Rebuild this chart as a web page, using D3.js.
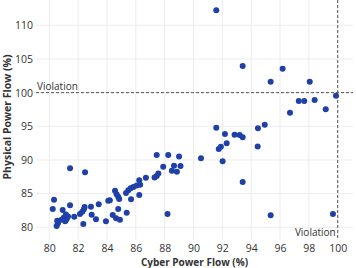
<!DOCTYPE html>
<html>
<head>
<meta charset="utf-8">
<script src="https://cdn.jsdelivr.net/npm/d3@7"></script>
<style>
body { margin: 0; background: #fff; }
svg { display: block; font-family: "Open Sans", sans-serif; }
</style>
</head>
<body>
<script>
var dot_color = '#1f40a8';
var grid_color = '#ececec';
var text_color = '#333';

var width = 356, height = 268;
var margin = {left: 36, right: 3, top: 0, bottom: 28};

// cyber power flow (%) and physical power flow (%) for each case
var cyber = [80.33, 80.24, 80.55, 80.51, 80.6, 80.93, 81.44, 81.44, 82.48, 81.0,
	81.1, 81.2, 81.3, 81.15, 80.85, 81.73, 82.13, 82.29, 82.4, 82.45,
	82.36, 82.89, 82.94, 83.24, 83.43, 83.93, 84.09, 84.2, 84.4, 84.63,
	84.56, 84.67, 84.78, 84.85, 84.78, 84.9, 85.37, 85.32, 85.48, 85.64,
	85.83, 86.06, 86.3, 85.67, 86.24, 86.24, 86.7, 87.3, 87.56, 87.45,
	87.45, 88.25, 87.9, 88.2, 88.65, 88.5, 88.85, 89.0, 89.1, 90.52,
	91.58, 91.58, 91.75, 91.9, 92.3, 92.02, 92.18, 92.85, 93.2, 93.41,
	93.41, 93.41, 94.45, 94.47, 94.94, 95.35, 95.35, 96.18, 96.69, 97.3,
	97.68, 98.06, 98.4, 99.17, 99.88, 99.67];
var physical = [84.1, 82.7, 80.98, 80.2, 80.6, 82.57, 83.27, 88.76, 88.17, 81.4,
	80.9, 81.2, 81.6, 81.9, 81.1, 81.57, 81.98, 82.32, 82.67, 83.0,
	80.5, 83.06, 81.87, 81.19, 83.42, 80.89, 83.95, 84.0, 81.83, 81.34,
	85.44, 84.9, 84.55, 84.2, 82.7, 81.1, 82.17, 85.1, 85.5, 85.8,
	86.0, 86.2, 86.3, 84.16, 84.8, 87.0, 87.37, 87.4, 88.0, 87.6,
	90.74, 90.74, 89.0, 81.98, 89.15, 88.4, 88.26, 90.5, 89.1, 90.25,
	112.23, 94.8, 91.63, 91.97, 92.47, 89.8, 93.86, 93.75, 93.7, 93.37,
	86.73, 103.95, 92.0, 94.7, 95.24, 81.78, 101.63, 103.55, 97.0, 98.76,
	98.76, 101.63, 98.9, 97.52, 99.53, 81.98];

var x_ticks = [80, 82, 84, 86, 88, 90, 92, 94, 96, 98, 100];
var y_ticks = [80, 85, 90, 95, 100, 105, 110];
var limit = 100;

var svg = d3.select("body").append("svg")
	.attr("width", width)
	.attr("height", height);

var x = d3.scaleLinear()
	.domain([79.08, 101.06])
	.range([margin.left, width - margin.right]);
var y = d3.scaleLinear()
	.domain([78.11, 113.76])
	.range([height - margin.bottom, margin.top]);

// grid
svg.selectAll(".vgrid")
	.data(x_ticks)
	.enter()
	.append("line")
	.attr("class", "vgrid")
	.attr("x1", function(d) {return x(d)})
	.attr("x2", function(d) {return x(d)})
	.attr("y1", y.range()[1])
	.attr("y2", y.range()[0])
	.attr("stroke", grid_color)
	.attr("stroke-width", 1)

svg.selectAll(".hgrid")
	.data(y_ticks)
	.enter()
	.append("line")
	.attr("class", "hgrid")
	.attr("x1", x.range()[0])
	.attr("x2", x.range()[1])
	.attr("y1", function(d) {return y(d)})
	.attr("y2", function(d) {return y(d)})
	.attr("stroke", grid_color)
	.attr("stroke-width", 1)

// axes, tick labels only
var x_axis = svg.append("g")
	.attr("transform", "translate(0," + (height - margin.bottom) + ")")
	.call(d3.axisBottom(x).tickValues(x_ticks).tickSize(0).tickPadding(5))
x_axis.select(".domain").remove();
x_axis.selectAll("text").attr("font-size", 10.5).attr("fill", text_color).attr("font-family", "Open Sans");

var y_axis = svg.append("g")
	.attr("transform", "translate(" + margin.left + ",0)")
	.call(d3.axisLeft(y).tickValues(y_ticks).tickSize(0).tickPadding(3))
y_axis.select(".domain").remove();
y_axis.selectAll("text").attr("font-size", 10.5).attr("fill", text_color).attr("font-family", "Open Sans");

// violation limits
svg.append("line")
	.attr("x1", x.range()[0])
	.attr("x2", x.range()[1])
	.attr("y1", y(limit))
	.attr("y2", y(limit))
	.attr("stroke", "#555")
	.attr("stroke-dasharray", "3,2")

svg.append("line")
	.attr("x1", x(limit))
	.attr("x2", x(limit))
	.attr("y1", y.range()[1])
	.attr("y2", y.range()[0])
	.attr("stroke", "#555")
	.attr("stroke-dasharray", "3,2")

svg.append("text")
	.attr("x", x.range()[0] + 1)
	.attr("y", y(limit) - 3)
	.attr("font-size", 10)
	.attr("fill", text_color)
	.text("Violation")

svg.append("text")
	.attr("x", x(limit) - 2)
	.attr("y", y.range()[0] - 4)
	.attr("text-anchor", "end")
	.attr("font-size", 10)
	.attr("fill", text_color)
	.text("Violation")

// points
svg.selectAll(".dot")
	.data(cyber)
	.enter()
	.append("circle")
	.attr("class", "dot")
	.attr("cx", function(d) {return x(d)})
	.attr("cy", function(d, i) {return y(physical[i])})
	.attr("r", 3)
	.style("fill", dot_color)

// axis titles
svg.append("text")
	.attr("text-anchor", "middle")
	.attr("x", (x.range()[0] + x.range()[1]) / 2)
	.attr("y", height - 2)
	.attr("font-size", 10)
	.attr("font-weight", "bold")
	.attr("fill", text_color)
	.text("Cyber Power Flow (%)")

svg.append("text")
	.attr("text-anchor", "middle")
	.attr("transform", "translate(11," + 117 + ") rotate(-90)")
	.attr("font-size", 10.5)
	.attr("font-weight", "bold")
	.attr("fill", text_color)
	.text("Physical Power Flow (%)")
</script>
</body>
</html>
